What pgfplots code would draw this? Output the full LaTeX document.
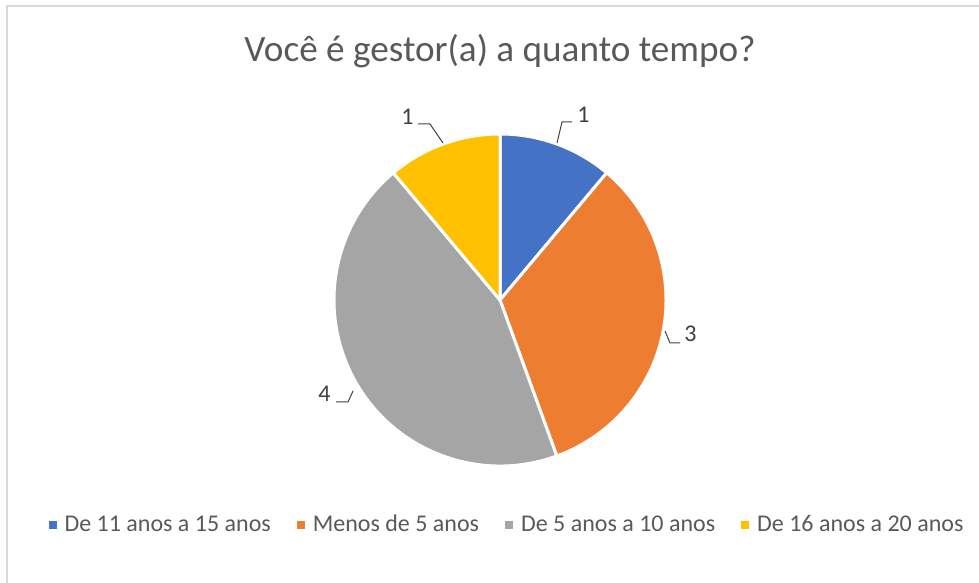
\documentclass[border=0pt]{standalone}
\usepackage{fontspec}
\setmainfont{Carlito}
\usepackage{pgfplots}
\pgfplotsset{compat=1.18}

\definecolor{c1}{HTML}{4472C4}
\definecolor{c2}{HTML}{ED7D31}
\definecolor{c3}{HTML}{A5A5A5}
\definecolor{c4}{HTML}{FFC000}
\definecolor{txt}{HTML}{595959}
\definecolor{lbl}{HTML}{404040}
\definecolor{frame}{HTML}{D9D9D9}

% pie: total 9, starts at 12 o'clock, clockwise
\newcommand{\slice}[3]{%
  \pgfmathsetmacro\sa{90-360*#1/9}%
  \pgfmathsetmacro\sb{90-360*(#1+#2)/9}%
  \edef\tmp{\noexpand\fill[#3, draw=white, line width=1.5pt] (axis cs:500,283) -- ++(\sa:83pt)
    arc[start angle=\sa, end angle=\sb, radius=83pt] -- cycle;}%
  \tmp}

\begin{document}
\begin{tikzpicture}
\begin{axis}[
  x=0.5pt, y=0.5pt,
  xmin=0, xmax=979, ymin=0, ymax=583,
  scale only axis, hide axis, clip=false,
  legend columns=4,
  legend image code/.code={\fill[#1, draw=none] (0pt,-2pt) rectangle (4pt,2pt);
    \path[draw=none, fill=none] (0pt,0pt) rectangle (6pt,0pt);},
  legend style={at={(axis cs:508,58)}, anchor=center, draw=none, fill=none,
    font=\fontsize{12}{14}\selectfont, text=txt,
    /tikz/every even column/.append style={column sep=11pt}},
]
\coordinate (bl) at (axis cs:0,0);
\coordinate (tr) at (axis cs:979,583);
\draw[frame, line width=0.75pt] (axis cs:7,0) -- (axis cs:7,577) -- (axis cs:979,577);

\node[anchor=base, text=txt, font=\fontsize{18.6}{22}\selectfont] at (axis cs:500,521) {Você é gestor(a) a quanto tempo?};

% start, value, colour
\slice{0}{1}{c1}
\slice{1}{3}{c2}
\slice{4}{4}{c3}
\slice{8}{1}{c4}

\addlegendimage{fill=c1}
\addlegendentry{De 11 anos a 15 anos}
\addlegendimage{fill=c2}
\addlegendentry{Menos de 5 anos}
\addlegendimage{fill=c3}
\addlegendentry{De 5 anos a 10 anos}
\addlegendimage{fill=c4}
\addlegendentry{De 16 anos a 20 anos}

% data labels with leader lines
\begin{scope}[every node/.style={anchor=base west, inner sep=0pt, text=lbl, font=\fontsize{12}{14}\selectfont}]
\node at (axis cs:577,460) {1};
\node at (axis cs:401,458) {1};
\node at (axis cs:684,241) {3};
\node at (axis cs:318,181) {4};
\end{scope}
\draw[lbl, line width=0.5pt] (axis cs:557,440) -- (axis cs:562,461) -- (axis cs:572,461);
\draw[lbl, line width=0.5pt] (axis cs:418,459) -- (axis cs:430,459) -- (axis cs:443,440);
\draw[lbl, line width=0.5pt] (axis cs:665,252) -- (axis cs:670,240) -- (axis cs:680,240);
\draw[lbl, line width=0.5pt] (axis cs:336,181) -- (axis cs:348,181) -- (axis cs:353,192);
\end{axis}
\pgfresetboundingbox
\path (bl) rectangle (tr);
\end{tikzpicture}
\end{document}
